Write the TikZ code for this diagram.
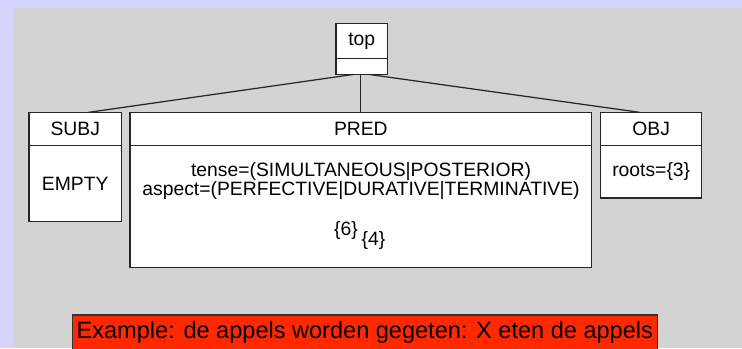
\documentclass[tikz,border=0pt]{standalone}
\usepackage{fontspec}
\setmainfont{Liberation Sans}
\usepackage{tikz}
\usetikzlibrary{positioning}
\usepackage{xcolor}
\definecolor{FSLavender}{RGB}{212,212,255}
\definecolor{FSGray}{RGB}{211,211,211}
\definecolor{FSRed}{RGB}{255,40,0}

\begin{document}
\begin{tikzpicture}[x=0.02cm,y=-0.02cm,
  fbox/.style={draw=black!85,fill=white,line width=0.8pt,inner sep=0pt,outer sep=0pt,
               minimum height=0.66cm,font=\fontsize{11}{10.2}\selectfont},
  ftext/.style={inner sep=0pt,align=center,font=\fontsize{11}{10.2}\selectfont},
  link/.style={black!85,line width=0.7pt},
]
\fill[FSLavender] (0,0) rectangle (742,348);
\fill[FSGray] (13,8) rectangle (742,348);
\useasboundingbox (0,0) rectangle (742,348);

\node[fbox,minimum width=1.03cm,minimum height=0.70cm] (tophead) at (361.7,40.9) {top};
\node[fbox,minimum width=1.03cm,minimum height=0.32cm,below=0pt of tophead] (topbody) {};

\node[fbox,minimum width=1.85cm] (subjhead) at (75.25,128.9) {SUBJ};
\node[fbox,minimum width=1.85cm,minimum height=1.52cm,below=0pt of subjhead] (subjbody) {EMPTY};

\node[fbox,minimum width=9.23cm] (predhead) at (360.85,128.9) {PRED};
\node[fbox,minimum width=9.23cm,minimum height=2.44cm,below=0pt of predhead] (predbody) {};
\node[ftext] (predfeat) at (361,181)
  {tense=(SIMULTANEOUS|POSTERIOR)\\aspect=(PERFECTIVE|DURATIVE|TERMINATIVE)};
\node[ftext] (six) at (346,230) {\{6\}};
\node[ftext] (four) at (373.5,240.5) {\{4\}};

\node[fbox,minimum width=2.02cm] (objhead) at (651.2,128.9) {OBJ};
\node[fbox,minimum width=2.02cm,minimum height=1.05cm,below=0pt of objhead] (objbody) {roots=\{3\}};

\draw[link] ([xshift=-0.16cm]topbody.south) -- ([xshift=0.26cm]subjhead.north);
\draw[link] (topbody.south -| predhead.north) -- (predhead.north);
\draw[link] ([xshift=0.14cm]topbody.south) -- ([xshift=-0.22cm]objhead.north);

\node[draw=black!80,fill=FSRed,line width=0.6pt,inner sep=0pt,
      minimum width=11.71cm,minimum height=0.8cm,text height=0.34cm,text depth=0.2cm,
      font=\fontsize{13.4}{16}\selectfont] (example) at (364.85,335)
  {Example: de appels worden gegeten: X eten de appels};
\end{tikzpicture}
\end{document}
